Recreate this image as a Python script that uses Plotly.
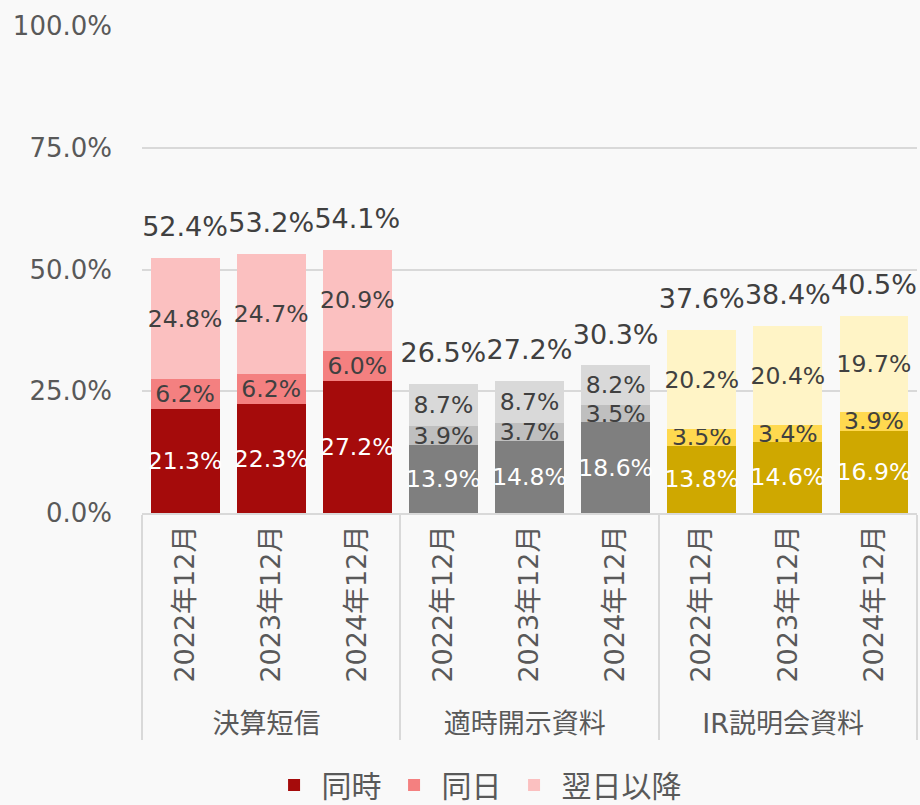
import plotly.graph_objects as go

groups = ["決算短信"] * 3 + ["適時開示資料"] * 3 + ["IR説明会資料"] * 3
periods = ["2022年12月", "2023年12月", "2024年12月"] * 3

douji = [21.3, 22.3, 27.2, 13.9, 14.8, 18.6, 13.8, 14.6, 16.9]
doujitsu = [6.2, 6.2, 6.0, 3.9, 3.7, 3.5, 3.5, 3.4, 3.9]
yokujitsu = [24.8, 24.7, 20.9, 8.7, 8.7, 8.2, 20.2, 20.4, 19.7]
totals = [52.4, 53.2, 54.1, 26.5, 27.2, 30.3, 37.6, 38.4, 40.5]

col_douji = ["#A50B0B"] * 3 + ["#7F7F7F"] * 3 + ["#CFA800"] * 3
col_doujitsu = ["#F48080"] * 3 + ["#BFBFBF"] * 3 + ["#FFD94F"] * 3
col_yokujitsu = ["#FBC0C0"] * 3 + ["#D9D9D9"] * 3 + ["#FFF4C6"] * 3

FONT = "DejaVu Sans, Noto Sans CJK JP"
x = [groups, periods]

fig = go.Figure()
for name, vals, cols, tcol in [
    ("同時", douji, col_douji, "white"),
    ("同日", doujitsu, col_doujitsu, "#404040"),
    ("翌日以降", yokujitsu, col_yokujitsu, "#404040"),
]:
    fig.add_trace(go.Bar(
        x=x, y=vals, name=name,
        marker=dict(color=cols, line=dict(width=0)),
        text=[f"{v:.1f}%" for v in vals],
        textposition="inside", insidetextanchor="middle",
        constraintext="none", textangle=0,
        textfont=dict(family=FONT, size=23.5, color=tcol),
    ))

# 合計ラベル（透明マーカーで少し上にずらす）
fig.add_trace(go.Scatter(
    x=x, y=totals, mode="markers+text",
    marker=dict(size=22, opacity=0),
    text=[f"{v:.1f}%" for v in totals],
    textposition="top center",
    textfont=dict(family=FONT, size=27, color="#404040"),
    showlegend=False, cliponaxis=False, hoverinfo="skip",
))

fig.update_layout(
    barmode="stack", bargap=0.2,
    width=920, height=805,
    paper_bgcolor="#F9F9F9", plot_bgcolor="#F9F9F9",
    margin=dict(l=142, r=3, t=26, b=292, autoexpand=False),
    font=dict(family=FONT, color="#595959", size=26),
    legend=dict(orientation="h", xref="container", yref="container",
                x=0.518, xanchor="center", y=0.025, yanchor="middle",
                itemwidth=45,
                font=dict(size=30, color="#595959"), traceorder="normal"),
)
fig.update_yaxes(range=[0, 100], tickvals=[0, 25, 50, 75, 100],
                 ticktext=["0.0%", "25.0%", "50.0%", "75.0%", "100.0%"],
                 showgrid=True, gridcolor="#D9D9D9", gridwidth=1.5,
                 zeroline=False, ticklabelstandoff=29, automargin=False,
                 tickfont=dict(size=26, color="#595959"))
fig.update_xaxes(type="multicategory", tickangle=-90, automargin=False,
                 range=[-0.5, 8.5],
                 showline=True, linecolor="#D9D9D9", linewidth=1.5,
                 showdividers=True, dividercolor="#D9D9D9", dividerwidth=1.5,
                 tickfont=dict(size=27, color="#595959"))

fig.write_html("out.html", config={"displayModeBar": False},
               post_script="document.body.style.margin='0';"
                           "document.body.style.background='#F9F9F9';")
